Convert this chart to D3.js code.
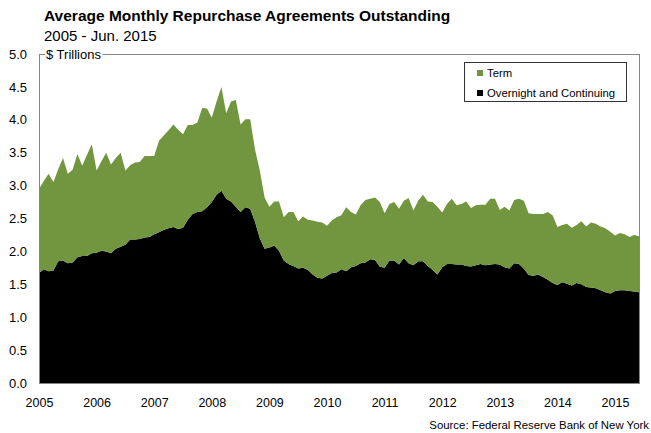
<!DOCTYPE html>
<html>
<head>
<meta charset="utf-8">
<script src="https://cdn.jsdelivr.net/npm/d3@7"></script>
<style>
  body { margin: 0; background: #fff; }
  svg { display: block; }
  text { font-family: "Liberation Sans", Arial, Helvetica, sans-serif; fill: #000; }
</style>
</head>
<body>
<svg id="chart" width="651" height="433"></svg>
<script>
// Monthly categories, Jan 2005 through Jun 2015
const months = d3.timeMonth.range(new Date(2005, 0, 1), new Date(2015, 6, 1));

// Overnight and continuing repo, $ trillions (monthly averages)
const overnight = [
  1.67,1.73,1.70,1.71,1.85,1.86,1.82,1.83,1.91,1.93,1.93,1.97,
  1.98,2.01,2.00,1.97,2.04,2.07,2.10,2.18,2.18,2.19,2.21,2.22,
  2.26,2.29,2.33,2.35,2.37,2.34,2.36,2.48,2.57,2.60,2.61,2.67,
  2.75,2.86,2.92,2.80,2.76,2.68,2.60,2.67,2.65,2.45,2.20,2.04,
  2.06,2.09,2.01,1.86,1.81,1.78,1.74,1.75,1.72,1.65,1.60,1.59,
  1.63,1.67,1.68,1.73,1.70,1.76,1.78,1.82,1.83,1.88,1.87,1.77,
  1.75,1.86,1.86,1.80,1.90,1.82,1.79,1.85,1.85,1.78,1.72,1.65,
  1.76,1.81,1.81,1.80,1.80,1.78,1.77,1.79,1.81,1.79,1.80,1.81,
  1.80,1.76,1.74,1.82,1.81,1.74,1.64,1.63,1.65,1.61,1.57,1.52,
  1.49,1.53,1.51,1.48,1.52,1.50,1.46,1.45,1.44,1.41,1.38,1.36,
  1.40,1.41,1.41,1.40,1.39,1.38
];

// Term repo, $ trillions (monthly averages)
const term = [
  1.28,1.34,1.48,1.34,1.40,1.56,1.36,1.41,1.57,1.37,1.54,1.66,
  1.25,1.36,1.50,1.35,1.38,1.43,1.13,1.13,1.17,1.17,1.24,1.23,
  1.19,1.39,1.43,1.49,1.56,1.51,1.42,1.44,1.35,1.36,1.57,1.50,
  1.28,1.42,1.58,1.30,1.52,1.62,1.33,1.34,1.36,1.10,1.03,0.78,
  0.62,0.67,0.75,0.66,0.79,0.82,0.72,0.78,0.76,0.82,0.85,0.85,
  0.76,0.80,0.84,0.82,0.97,0.84,0.78,0.88,0.95,0.92,0.95,0.98,
  0.83,0.86,0.89,0.85,0.87,0.99,0.83,0.92,1.01,0.98,1.03,1.03,
  0.83,0.91,0.99,0.90,0.92,0.98,0.89,0.91,0.90,0.92,1.00,0.99,
  0.83,0.92,0.88,0.96,0.99,1.03,0.94,0.94,0.92,0.96,1.03,1.03,
  0.88,0.87,0.91,0.88,0.88,0.96,0.92,0.99,0.98,0.97,0.97,0.94,
  0.84,0.87,0.85,0.82,0.86,0.85
];

const yTickValues = [0, 0.5, 1, 1.5, 2, 2.5, 3, 3.5, 4, 4.5, 5];
const yearLabels = [2005, 2006, 2007, 2008, 2009, 2010, 2011, 2012, 2013, 2014, 2015];
const seriesKeys = ["overnight", "term"];
const legendLabels = ["Term", "Overnight and Continuing"];
const colors = { term: "#71963f", overnight: "#000000" };

const rows = months.map((m, i) => ({ date: m, overnight: overnight[i], term: term[i] }));

const svg = d3.select("#chart");
const plot = { left: 39, right: 639, top: 54, bottom: 383 };

const x = d3.scalePoint()
  .domain(months.map(d => +d))
  .range([plot.left, plot.right]);

const y = d3.scaleLinear()
  .domain([0, 5])
  .range([plot.bottom, plot.top]);

// Stacked areas: overnight at the base, term on top
const stacked = d3.stack().keys(seriesKeys)(rows);
const area = d3.area()
  .x(d => x(+d.data.date))
  .y0(d => y(d[0]))
  .y1(d => y(d[1]));

svg.append("g")
  .selectAll("path")
  .data(stacked)
  .join("path")
  .attr("d", area)
  .attr("fill", d => colors[d.key]);

// Plot frame
svg.append("rect")
  .attr("x", plot.left + 0.5)
  .attr("y", plot.top + 0.5)
  .attr("width", plot.right - plot.left)
  .attr("height", plot.bottom - plot.top)
  .attr("fill", "none")
  .attr("stroke", "#868686")
  .attr("stroke-width", 1);

// Y axis
const yAxis = svg.append("g")
  .attr("transform", `translate(${plot.left},0)`)
  .call(d3.axisLeft(y).tickValues(yTickValues).tickFormat(d3.format(".1f")).tickSize(0).tickPadding(12));
yAxis.select(".domain").remove();
yAxis.selectAll("text").attr("font-size", 13).attr("font-family", null);

// X axis: year labels at each January
const januaries = months.filter(m => m.getMonth() === 0);
const xAxis = svg.append("g")
  .attr("transform", `translate(0,${plot.bottom})`)
  .call(d3.axisBottom(x)
    .tickValues(januaries.map(d => +d))
    .tickFormat((d, i) => yearLabels[i])
    .tickSize(0)
    .tickPadding(15));
xAxis.select(".domain").remove();
xAxis.selectAll("text").attr("font-size", 12.5).attr("font-family", null);

// Units label sitting on the top frame line (white backing breaks the line)
const unitsBack = svg.append("rect")
  .attr("y", 50)
  .attr("height", 8)
  .attr("fill", "#fff");
const unitsText = svg.append("text")
  .attr("x", 46)
  .attr("y", 58.6)
  .attr("font-size", 13)
  .text("$ Trillions");
const ub = unitsText.node().getBBox();
unitsBack.attr("x", ub.x - 1).attr("width", ub.width + 2);

// Title block
svg.append("text")
  .attr("x", 44).attr("y", 21)
  .attr("font-size", 15.5)
  .attr("font-weight", "bold")
  .text("Average Monthly Repurchase Agreements Outstanding");
svg.append("text")
  .attr("x", 44).attr("y", 41)
  .attr("font-size", 15)
  .text("2005 - Jun. 2015");

// Legend
const legend = svg.append("g");
legend.append("rect")
  .attr("x", 464.5).attr("y", 62.5)
  .attr("width", 162).attr("height", 39)
  .attr("fill", "#fff")
  .attr("stroke", "#333")
  .attr("stroke-width", 1);
const legendKeys = ["term", "overnight"];
legendKeys.forEach((k, i) => {
  const cy = 73 + i * 20;
  legend.append("rect")
    .attr("x", 477).attr("y", cy - 3)
    .attr("width", 6).attr("height", 6)
    .attr("fill", colors[k]);
  legend.append("text")
    .attr("x", 487).attr("y", cy + 4)
    .attr("font-size", 11.3)
    .text(legendLabels[i]);
});

// Source note, right-aligned to the page edge
svg.append("text")
  .attr("x", 649).attr("y", 429)
  .attr("text-anchor", "end")
  .attr("font-size", 11.4)
  .text("Source: Federal Reserve Bank of New York");
</script>
</body>
</html>
